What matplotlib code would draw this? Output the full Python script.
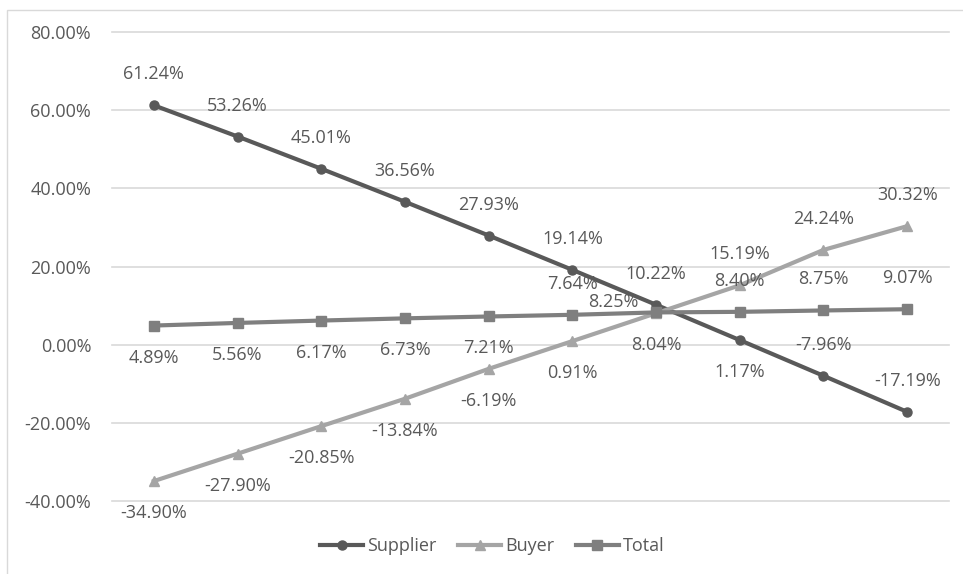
import matplotlib.pyplot as plt
from matplotlib.lines import Line2D
from matplotlib.patches import Rectangle

# data
points = list(range(1, 11))
supplier = [61.24, 53.26, 45.01, 36.56, 27.93, 19.14, 10.22, 1.17, -7.96, -17.19]
buyer = [-34.90, -27.90, -20.85, -13.84, -6.19, 0.91, 8.04, 15.19, 24.24, 30.32]
total = [4.89, 5.56, 6.17, 6.73, 7.21, 7.64, 8.25, 8.40, 8.75, 9.07]
y_ticks = [-40, -20, 0, 20, 40, 60, 80]

# label placement (pixel offsets from the point, y up)
UP = (0, 31)
DOWN = (0, -32)
supplier_offsets = [UP] * 7 + [DOWN] + [UP] * 2
buyer_offsets = [DOWN] * 7 + [UP] * 3
total_offsets = [DOWN] * 5 + [UP, (-43, 10), UP, UP, UP]

text_color = "#595959"
plt.rcParams['font.family'] = ['Open Sans', 'DejaVu Sans']

figure = plt.figure(figsize=(9.63, 5.74), dpi=100)
axis = figure.add_axes([112 / 963, 1 - 501 / 574, (949 - 112) / 963, (501 - 32) / 574])

# chart border
figure.patches.append(Rectangle((7 / 963, -0.1), 1.2, 1 - 10 / 574 + 0.1, transform=figure.transFigure,
                                fill=False, edgecolor="#D9D9D9", linewidth=1.0))

x = list(range(len(points)))
series = [
    ("Supplier", supplier, "#595959", "o", 6.5, supplier_offsets),
    ("Buyer", buyer, "#A5A5A5", "^", 7.5, buyer_offsets),
    ("Total", total, "#7F7F7F", "s", 7.5, total_offsets),
]

handles = []
for name, values, color, marker, msize, offsets in series:
    axis.plot(x, values, color=color, linewidth=3.0, marker=marker, markersize=msize, zorder=3)
    handles.append(Line2D([], [], color=color, linewidth=3.0, marker=marker, markersize=msize, label=name))
    for xi, v, off in zip(x, values, offsets):
        axis.annotate(f"{v:.2f}%", (xi, v), xytext=off, textcoords="offset pixels",
                      ha="center", va="center", fontsize=13, color=text_color, zorder=4)

axis.set_xlim(-0.5, len(points) - 0.5)
axis.set_ylim(-40, 80)
axis.set_yticks(y_ticks)
axis.set_yticklabels([f"{t:.2f}%" for t in y_ticks], fontsize=13, color=text_color)
axis.set_xticks([])
axis.tick_params(axis="y", length=0, pad=15)
axis.grid(axis="y", color="#D9D9D9", linewidth=1.2)
for gridline in axis.get_ygridlines():
    gridline.set_clip_on(False)
axis.set_axisbelow(True)
for spine in axis.spines.values():
    spine.set_visible(False)

figure.legend(handles=handles, loc="center", bbox_to_anchor=(492 / 963, 1 - 546 / 574), ncol=3,
              frameon=False, fontsize=13, labelcolor=text_color, handlelength=2.4,
              handletextpad=0.2, columnspacing=1.2)

figure.savefig("out.png", dpi=100)
